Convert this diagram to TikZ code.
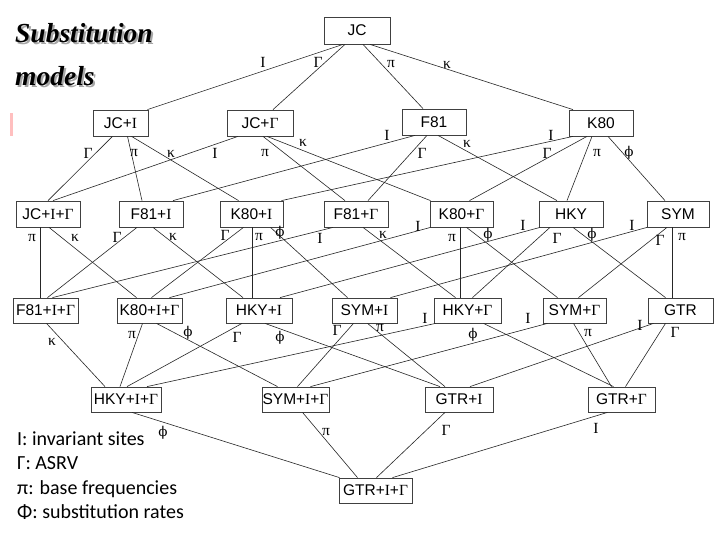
\documentclass[tikz,border=0pt]{standalone}
\usepackage{fontspec}
\setmainfont{Liberation Sans}
\newfontfamily\serifg{Liberation Serif}
\newfontfamily\phifont{DejaVu Serif}
\newfontfamily\legendfont{Carlito}
\newfontfamily\titlefont{Liberation Serif}
\newcommand{\gI}{{\serifg I}}
\newcommand{\gG}{{\serifg Γ}}
\newcommand{\ph}{{\phifont\fontsize{13.5}{15}\selectfont ϕ}}
\newcommand{\conn}[4]{\draw[edge] ([xshift=#3pt]#1.south) -- ([xshift=#4pt]#2.north);}
\tikzset{
  model/.style={draw=black!75, line width=0.8pt, fill=white, minimum height=26pt,
    inner sep=0pt, font=\fontsize{15.5}{17}\selectfont},
  lab/.style={font=\serifg\fontsize{15.5}{17}\selectfont, inner sep=0pt},
  edge/.style={line width=0.6pt, black!85},
  legend/.style={font=\legendfont\fontsize{20}{23}\selectfont, inner sep=0pt, anchor=base west},
  ttl/.style={font=\titlefont\bfseries\itshape\fontsize{27.5}{32}\selectfont, inner sep=0pt, anchor=base west}
}
\begin{document}
\begin{tikzpicture}[x=1pt,y=-1pt]
\useasboundingbox (0,0) rectangle (720,540);
\fill[white] (0,0) rectangle (720,540);
% title
\node[ttl, text=black!35] (t1s) at (17,44.5) {Substitution};
\node[ttl, text=black!35] (t2s) at (17,87.5) {models};
\node[ttl] (t1) at (15,42.5) {Substitution};
\node[ttl] (t2) at (15,85.5) {models};
\fill[red!25] (10,113) rectangle (13,136);
% models
\node[model, minimum width=66pt, minimum height=27pt] (JC) at (357,30.5) {JC};
\node[model, minimum width=55pt] (JCI) at (120.5,123) {JC+\gI};
\node[model, minimum width=66pt] (JCG) at (260,123) {JC+\gG};
\node[model, minimum width=64pt] (F81) at (434,122) {F81};
\node[model, minimum width=64pt] (K80) at (601,123) {K80};
\node[model, minimum width=64pt] (JCIG) at (48,214) {JC+\gI+\gG};
\node[model, minimum width=64pt] (F81I) at (151,214) {F81+\gI};
\node[model, minimum width=63pt] (K80I) at (251.5,214) {K80+\gI};
\node[model, minimum width=64pt] (F81G) at (356,214) {F81+\gG};
\node[model, minimum width=63pt] (K80G) at (461.5,214) {K80+\gG};
\node[model, minimum width=64pt] (HKY) at (571,214) {HKY};
\node[model, minimum width=62pt] (SYM) at (678,214) {SYM};
\node[model, minimum width=65pt, minimum height=25pt] (F81IG) at (45.5,310.5) {F81+\gI+\gG};
\node[model, minimum width=65pt, minimum height=25pt] (K80IG) at (149.5,310.5) {K80+\gI+\gG};
\node[model, minimum width=66pt, minimum height=25pt] (HKYI) at (259,310.5) {HKY+\gI};
\node[model, minimum width=65pt, minimum height=25pt] (SYMI) at (364.5,310.5) {SYM+\gI};
\node[model, minimum width=67pt, minimum height=25pt] (HKYG) at (467.5,310.5) {HKY+\gG};
\node[model, minimum width=63pt, minimum height=25pt] (SYMG) at (574.5,310.5) {SYM+\gG};
\node[model, minimum width=65pt, minimum height=25pt] (GTR) at (680.5,310.5) {GTR};
\node[model, minimum width=70pt, minimum height=25pt] (HKYIG) at (126,399.5) {HKY+\gI+\gG};
\node[model, minimum width=67pt, minimum height=25pt] (SYMIG) at (295.5,399.5) {SYM+\gI+\gG};
\node[model, minimum width=68pt, minimum height=25pt] (GTRI) at (459,399.5) {GTR+\gI};
\node[model, minimum width=67pt, minimum height=25pt] (GTRG) at (621.5,399.5) {GTR+\gG};
\node[model, minimum width=73pt, minimum height=25pt] (GTRIG) at (375.5,490.5) {GTR+\gI+\gG};
% connectors
\conn{JC}{JCI}{-14}{27}
\conn{JC}{JCG}{-12}{13}
\conn{JC}{F81}{6}{-11}
\conn{JC}{K80}{13}{-28}
\conn{JCI}{JCIG}{-8}{0}
\conn{JCI}{F81I}{7}{-9}
\conn{JCI}{K80I}{11}{-13}
\conn{JCG}{JCIG}{-22}{5}
\conn{JCG}{F81G}{3}{-11}
\conn{JCG}{K80G}{7}{-31}
\conn{F81}{F81I}{-19}{22}
\conn{F81}{F81G}{-7}{12}
\conn{F81}{HKY}{4}{-14}
\conn{K80}{K80I}{-28}{30}
\conn{K80}{K80G}{-14}{8}
\conn{K80}{HKY}{-9}{-4}
\conn{K80}{SYM}{7}{-13}
\conn{JCIG}{F81IG}{-8}{-5.5}
\conn{JCIG}{K80IG}{1}{-13}
\conn{F81I}{F81IG}{-14}{2}
\conn{F81I}{HKYI}{2}{-16}
\conn{F81G}{F81IG}{-23}{7}
\conn{F81G}{HKYG}{7}{-12}
\conn{K80I}{K80IG}{-8}{2}
\conn{K80I}{HKYI}{0.5}{-7}
\conn{K80I}{SYMI}{19}{-17}
\conn{K80G}{K80IG}{-31}{20}
\conn{K80G}{HKYG}{-1.5}{-7.5}
\conn{K80G}{SYMG}{5}{-17}
\conn{HKY}{HKYI}{-31}{21}
\conn{HKY}{HKYG}{-21}{5}
\conn{HKY}{GTR}{2}{-15}
\conn{SYM}{SYMI}{-31}{26}
\conn{SYM}{SYMG}{-11}{4}
\conn{SYM}{GTR}{-6}{-8.5}
\conn{F81IG}{HKYIG}{1}{-21}
\conn{K80IG}{HKYIG}{-7}{-6}
\conn{K80IG}{SYMIG}{7}{-18}
\conn{HKYI}{HKYIG}{-17}{1}
\conn{HKYI}{GTRI}{6}{-19}
\conn{SYMI}{SYMIG}{-11}{2}
\conn{SYMI}{GTRI}{3}{-14}
\conn{HKYG}{HKYIG}{-32}{21}
\conn{HKYG}{GTRG}{16}{-8}
\conn{SYMG}{SYMIG}{-27}{15}
\conn{SYMG}{GTRG}{-1}{-10}
\conn{GTR}{GTRI}{-27}{11}
\conn{GTR}{GTRG}{-15}{4}
\conn{HKYIG}{GTRIG}{6}{-36}
\conn{SYMIG}{GTRIG}{7}{-18}
\conn{GTRI}{GTRIG}{-14}{1}
\conn{GTRG}{GTRIG}{-14}{17}
% labels
\node[lab] (a1) at (263,62) {I};
\node[lab] (a2) at (318,62) {Γ};
\node[lab] (a3) at (391,64) {π};
\node[lab] (a4) at (447,65) {κ};
\node[lab] (b1) at (88,153) {Γ};
\node[lab] (b2) at (134,153) {π};
\node[lab] (b3) at (171,154) {κ};
\node[lab] (b4) at (215,153) {I};
\node[lab] (b5) at (265,153) {π};
\node[lab] (b6) at (303,143) {κ};
\node[lab] (b7) at (387,135) {I};
\node[lab] (b8) at (422,153) {Γ};
\node[lab] (b9) at (467,144) {κ};
\node[lab] (b10) at (551,135) {I};
\node[lab] (b11) at (547,153) {Γ};
\node[lab] (b12) at (597,153) {π};
\node[lab] (b13) at (629,153) {\ph};
\node[lab] (c1) at (32,238) {π};
\node[lab] (c2) at (75,238) {κ};
\node[lab] (c3) at (117,237) {Γ};
\node[lab] (c4) at (173,237) {κ};
\node[lab] (c5) at (225,235) {Γ};
\node[lab] (c6) at (259,237) {π};
\node[lab] (c7) at (280,233) {\ph};
\node[lab] (c8) at (320,238) {I};
\node[lab] (c9) at (383,235) {κ};
\node[lab] (c10) at (418,226) {I};
\node[lab] (c11) at (452,238) {π};
\node[lab] (c12) at (488,235) {\ph};
\node[lab] (c13) at (523,225) {I};
\node[lab] (c14) at (557,238) {Γ};
\node[lab] (c15) at (592,235) {\ph};
\node[lab] (c16) at (632,225) {I};
\node[lab] (c17) at (660,240) {Γ};
\node[lab] (c18) at (682,237) {π};
\node[lab] (d1) at (52,342) {κ};
\node[lab] (d2) at (132,335) {π};
\node[lab] (d3) at (188,333) {\ph};
\node[lab] (d4) at (237,337) {Γ};
\node[lab] (d5) at (280,338) {\ph};
\node[lab] (d6) at (337,330) {Γ};
\node[lab] (d7) at (380,328) {π};
\node[lab] (d8) at (425,318) {I};
\node[lab] (d9) at (473,335) {\ph};
\node[lab] (d10) at (528,318) {I};
\node[lab] (d11) at (588,333) {π};
\node[lab] (d12) at (640,325) {I};
\node[lab] (d13) at (675,332) {Γ};
\node[lab] (e1) at (163,433) {\ph};
\node[lab] (e2) at (326,432) {π};
\node[lab] (e3) at (446,430) {Γ};
\node[lab] (e4) at (596,428) {I};
% legend
\node[legend] (g1) at (17,445) {I: invariant sites};
\node[legend] (g2) at (17,469.5) {Γ: ASRV};
\node[legend] (g3) at (17,494) {π: base frequencies};
\node[legend] (g4) at (17,518.5) {Φ: substitution rates};
\end{tikzpicture}
\end{document}
